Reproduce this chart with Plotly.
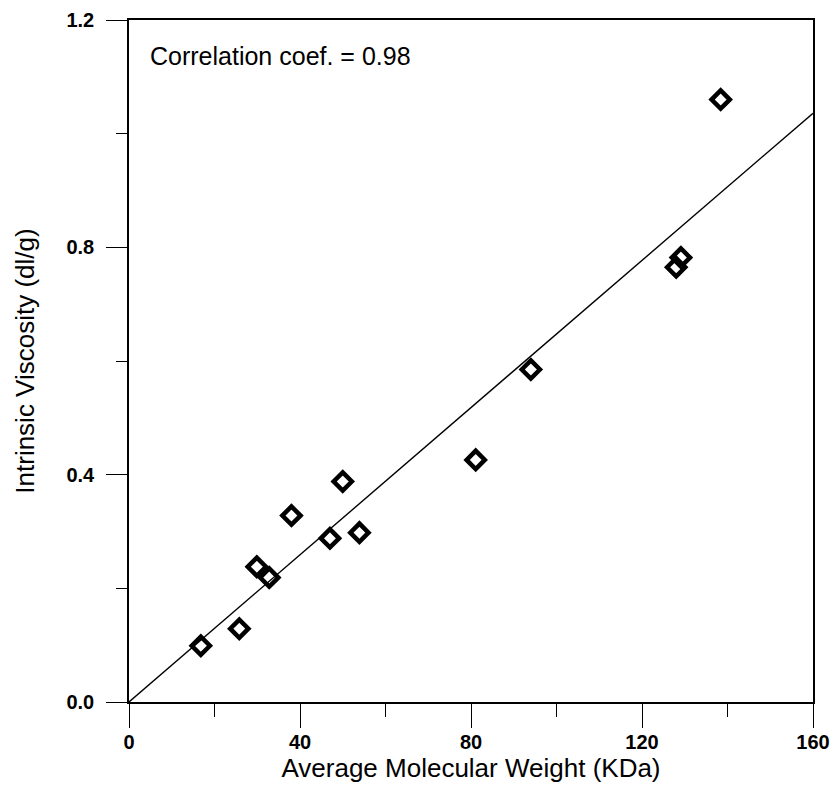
import plotly.graph_objects as go

# Data
mol_weight = [16.8, 25.8, 29.9, 32.8, 38.0, 47.0, 50.0, 53.9, 81.1, 94.0, 128.0, 129.1, 138.4]
viscosity = [0.099, 0.129, 0.238, 0.219, 0.328, 0.288, 0.388, 0.298, 0.426, 0.585, 0.765, 0.782, 1.060]
fit_x = [0, 160]
fit_y = [0, 1.036]
x_ticks = [0, 40, 80, 120, 160]
x_minor = [20, 60, 100, 140]
y_ticks = [0.0, 0.4, 0.8, 1.2]
y_minor = [0.2, 0.6, 1.0]

FONT = "Liberation Sans, Arial, Helvetica, sans-serif"

fig = go.Figure()
fig.add_trace(go.Scatter(x=fit_x, y=fit_y, mode="lines",
                         line=dict(color="black", width=1.4), showlegend=False))
fig.add_trace(go.Scatter(x=mol_weight, y=viscosity, mode="markers",
                         marker=dict(symbol="diamond-open", size=14, color="black",
                                     line=dict(color="black", width=4.5)),
                         showlegend=False))

fig.add_annotation(x=0, y=1, xref="paper", yref="paper", xanchor="left", yanchor="top",
                   xshift=19, yshift=-20, showarrow=False,
                   text="Correlation coef. = 0.98",
                   font=dict(family=FONT, size=25, color="black"))

fig.update_layout(
    width=831, height=788,
    margin=dict(l=129, r=18, t=20, b=86),
    paper_bgcolor="white", plot_bgcolor="white",
    font=dict(family=FONT, color="black"),
)
fig.update_xaxes(
    range=[0, 160], tickvals=x_ticks, ticktext=[str(v) for v in x_ticks],
    ticks="outside", ticklen=24, tickwidth=1.2, tickcolor="black",
    minor=dict(tickvals=x_minor, ticks="outside", ticklen=13, tickcolor="black", tickwidth=1.2),
    showline=True, linecolor="black", linewidth=1.5, mirror=True,
    showgrid=False, zeroline=False, automargin=False,
    tickfont=dict(family=FONT, size=20, color="black", weight="bold"),
    ticklabelstandoff=-3,
    title=dict(text="Average Molecular Weight (KDa)", font=dict(family=FONT, size=26, color="black"), standoff=2),
)
fig.update_yaxes(
    range=[0, 1.2], tickvals=y_ticks, ticktext=["%.1f" % v for v in y_ticks],
    ticks="outside", ticklen=21, tickwidth=1.2, tickcolor="black",
    minor=dict(tickvals=y_minor, ticks="outside", ticklen=11, tickcolor="black", tickwidth=1.2),
    showline=True, linecolor="black", linewidth=1.5, mirror=True,
    showgrid=False, zeroline=False, automargin=False,
    tickfont=dict(family=FONT, size=20, color="black", weight="bold"),
    ticklabelstandoff=8,
    title=dict(text="Intrinsic Viscosity (dl/g)", font=dict(family=FONT, size=26, color="black"), standoff=24),
)

fig.write_html(
    "out.html",
    config={"displayModeBar": False},
    post_script="document.body.style.margin='0';document.body.style.overflow='hidden';",
)
